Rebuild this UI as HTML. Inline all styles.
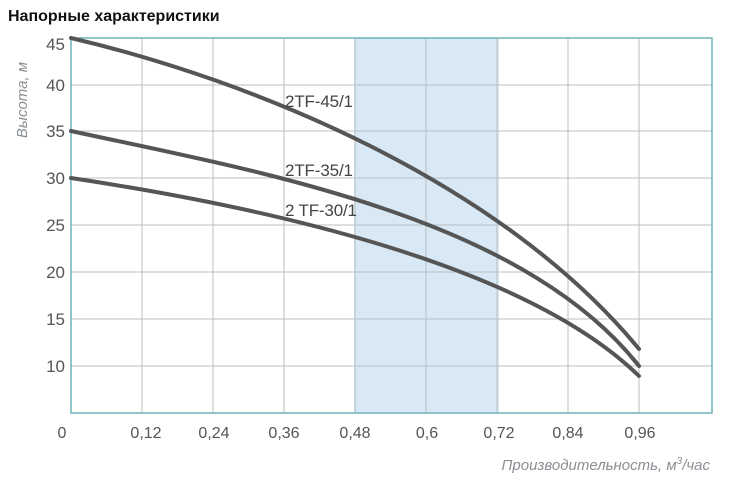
<!DOCTYPE html>
<html><head><meta charset="utf-8"><style>
body{margin:0;background:#fff;width:737px;height:484px;overflow:hidden}
svg{display:block}
text{font-family:"Liberation Sans",sans-serif}
</style></head><body>
<svg width="737" height="484" viewBox="0 0 737 484">
<text x="8" y="21" font-size="16" font-weight="bold" fill="#111">Напорные характеристики</text>
<rect x="354" y="38" width="145" height="375" fill="#d8e9f5"/>
<g stroke="#b9bfc4" stroke-width="1">
<line x1="142" y1="38" x2="142" y2="413"/><line x1="213" y1="38" x2="213" y2="413"/>
<line x1="284" y1="38" x2="284" y2="413"/><line x1="355" y1="38" x2="355" y2="413"/>
<line x1="426" y1="38" x2="426" y2="413"/><line x1="497" y1="38" x2="497" y2="413"/>
<line x1="568" y1="38" x2="568" y2="413"/><line x1="639" y1="38" x2="639" y2="413"/>
<line x1="71" y1="85" x2="712" y2="85"/><line x1="71" y1="131" x2="712" y2="131"/>
<line x1="71" y1="178" x2="712" y2="178"/><line x1="71" y1="225" x2="712" y2="225"/>
<line x1="71" y1="272" x2="712" y2="272"/><line x1="71" y1="319" x2="712" y2="319"/>
<line x1="71" y1="366" x2="712" y2="366"/>
</g>
<rect x="71" y="38" width="641" height="375" fill="none" stroke="#6fb3b8" stroke-width="1.5"/>
<g fill="none" stroke="#555" stroke-width="4" stroke-linecap="round" stroke-linejoin="round">
<path d="M71,38 C250,80 500,180 639,349"/>
<path d="M71,131 C250,170 520,215 639,366"/>
<path d="M71,178 C250,205 520,260 639,376"/>
</g>
<g font-size="17" fill="#444">
<text x="285" y="107" textLength="68">2TF-45/1</text>
<text x="285" y="176" textLength="68">2TF-35/1</text>
<text x="285" y="216" textLength="72">2 TF-30/1</text>
</g>
<g font-size="17" fill="#555" text-anchor="end">
<text x="65" y="50">45</text><text x="65" y="91">40</text><text x="65" y="137">35</text>
<text x="65" y="184">30</text><text x="65" y="231">25</text><text x="65" y="278">20</text>
<text x="65" y="325">15</text><text x="65" y="372">10</text>
</g>
<g font-size="16" fill="#555" text-anchor="middle">
<text x="62" y="438">0</text><text x="146" y="438">0,12</text><text x="214" y="438">0,24</text>
<text x="284" y="438">0,36</text><text x="355" y="438">0,48</text><text x="427" y="438">0,6</text>
<text x="499" y="438">0,72</text><text x="568" y="438">0,84</text><text x="640" y="438">0,96</text>
</g>
<text x="710" y="470" font-size="15" font-style="italic" fill="#8a8f94" text-anchor="end">Производительность, м<tspan dy="-6" font-size="10">3</tspan><tspan dy="6">/час</tspan></text>
<text transform="translate(27,100) rotate(-90)" font-size="15" font-style="italic" fill="#8a8f94" text-anchor="middle">Высота, м</text>
</svg>
</body></html>
